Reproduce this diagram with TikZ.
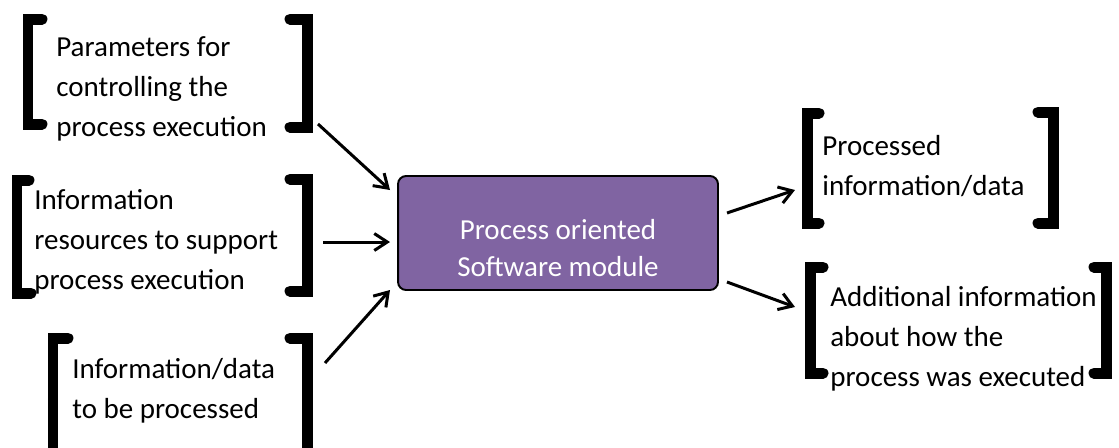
\documentclass[tikz,border=0pt]{standalone}
\usepackage{fontspec}
\setmainfont{Carlito}
\usetikzlibrary{arrows.meta}

\begin{document}
\begin{tikzpicture}[x=0.02cm, y=-0.02cm,
        brkt/.style={line width=0.22cm, line cap=round, line join=miter},
        arr/.style={line width=0.06cm, -{Straight Barb[length=2.6mm, width=3.4mm]}},
        txt/.style={anchor=west, inner sep=0pt, align=left,
            font=\fontsize{16.5pt}{22.7pt}\selectfont}]
        \useasboundingbox (0, 0) rectangle (1119, 447);
        \clip (0, 0) rectangle (1119, 447);

        % inputs
        \node (params) at (56, 89) [txt] {Parameters for\\controlling the\\process execution};
        \node (resources) at (34, 242) [txt] {Information\\resources to support\\process execution};
        \node (indata) at (72, 391) [txt] {Information/data\\to be processed};
        \draw [brkt] (42, 19) -- (28, 19) -- (28, 124) -- (42, 124);
        \draw [brkt] (290, 19) -- (307, 19) -- (307, 127) -- (290, 127);
        \draw [brkt] (29, 180) -- (17, 180) -- (17, 293) -- (31, 293);
        \draw [brkt] (290, 179) -- (307, 179) -- (307, 291) -- (290, 291);
        \draw [brkt] (68, 338) -- (53, 338) -- (53, 460);
        \draw [brkt] (290, 338) -- (307, 338) -- (307, 460);

        % module
        \node (module) at (558, 233) [draw=black, line width=1.1pt, fill={rgb,255:red,128;green,100;blue,162},
            rounded corners=0.16cm, minimum width=6.4cm, minimum height=2.28cm] {};
        \node (modtext) at (558, 248) [text=white, align=center, inner sep=0pt,
            font=\fontsize{16.5pt}{21.5pt}\selectfont] {Process oriented\\Software module};

        % outputs
        \node (outdata) at (822, 166) [txt] {Processed\\information/data};
        \node (extra) at (830, 339) [txt] {Additional information\\about how the\\process was executed};
        \draw [brkt] (819, 113) -- (807, 113) -- (807, 223) -- (819, 223);
        \draw [brkt] (1038, 112) -- (1053, 112) -- (1053, 223) -- (1038, 223);
        \draw [brkt] (823, 267) -- (810, 267) -- (810, 373) -- (823, 373);
        \draw [brkt] (1094, 267) -- (1106, 267) -- (1106, 373) -- (1094, 373);

        % connectors
        \coordinate (p1) at (318, 124);
        \coordinate (p2) at (323, 242);
        \coordinate (p3) at (325, 363);
        \coordinate (q1) at (390, 190);
        \coordinate (q2) at (390, 242);
        \coordinate (q3) at (390, 290);
        \coordinate (r1) at (727, 213);
        \coordinate (r2) at (727, 282);
        \coordinate (s1) at (795, 190);
        \coordinate (s2) at (795, 307);
        \draw [arr] (p1) -- (q1);
        \draw [arr] (p2) -- (q2);
        \draw [arr] (p3) -- (q3);
        \draw [arr] (r1) -- (s1);
        \draw [arr] (r2) -- (s2);
    \end{tikzpicture}
\end{document}
